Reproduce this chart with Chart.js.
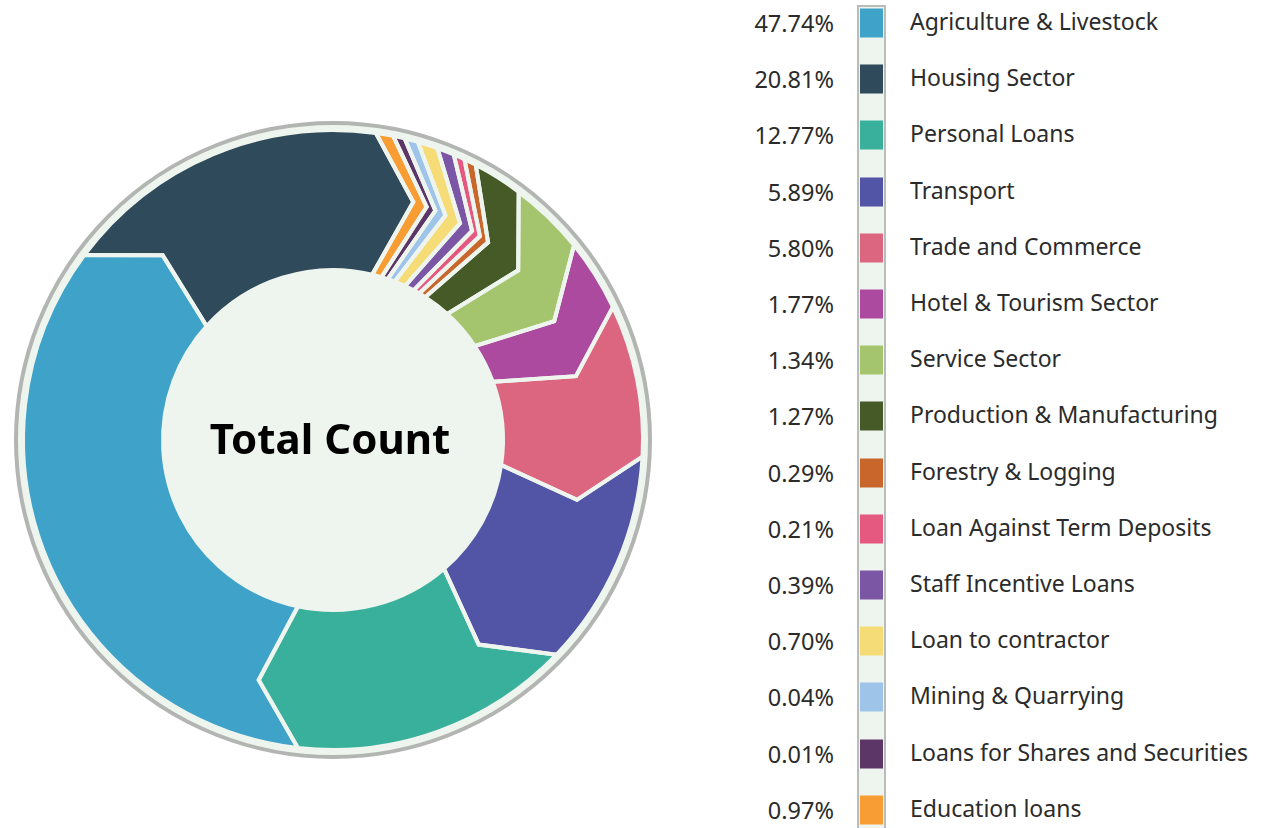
<!DOCTYPE html>
<html>
<head>
<meta charset="utf-8">
<script src="https://cdn.jsdelivr.net/npm/chart.js@4.4.0/dist/chart.umd.min.js"></script>
<style>
    html, body { margin: 0; padding: 0; background: #fff; }
    body { width: 1268px; height: 828px; position: relative; overflow: hidden; font-family: "Noto Sans", sans-serif; color: #2b2b2b; }
    #chartBox { position: absolute; left: 3px; top: 110px; width: 660px; height: 660px; }
    .bar { position: absolute; left: 857px; top: 5px; width: 29px; height: 840px; background: #eef5ee; border: 2px solid #b9bdb9; box-sizing: border-box; }
    .pct { position: absolute; right: 434px; font-size: 23.5px; line-height: 1; transform: translateY(-50%); white-space: nowrap; }
    .sw { position: absolute; left: 860px; width: 23px; height: 29px; transform: translateY(-50%); }
    .lab { position: absolute; left: 910px; font-size: 23px; line-height: 1; transform: translateY(-50%); white-space: nowrap; }
</style>
</head>
<body>
<div id="chartBox"><canvas id="ring"></canvas></div>
<div id="legend"><div class="bar"></div></div>

<script>
// legend order
const categories = ['Agriculture & Livestock', 'Housing Sector', 'Personal Loans', 'Transport', 'Trade and Commerce',
    'Hotel & Tourism Sector', 'Service Sector', 'Production & Manufacturing', 'Forestry & Logging',
    'Loan Against Term Deposits', 'Staff Incentive Loans', 'Loan to contractor', 'Mining & Quarrying',
    'Loans for Shares and Securities', 'Education loans'];
const percentLabels = ['47.74%', '20.81%', '12.77%', '5.89%', '5.80%', '1.77%', '1.34%', '1.27%', '0.29%',
    '0.21%', '0.39%', '0.70%', '0.04%', '0.01%', '0.97%'];
// share of the ring each slice takes (read off the picture, not the % labels)
const countShare = [33.3, 17.0, 14.6, 11.3, 7.9, 3.75, 3.95, 2.6, 0.65, 0.6, 0.9, 1.05, 0.7, 0.6, 0.9];
const colors = ['#3fa3c9', '#2f4a5a', '#39b09b', '#5254a6', '#dc6580', '#ab4a9e', '#a4c46d', '#465a28', '#c9662b',
    '#e5587f', '#7a56a5', '#f6dc76', '#9ec4ea', '#5b3667', '#f89d34'];
// clockwise order of the slices round the ring, starting at Agriculture
const ringOrder = [0, 1, 14, 13, 12, 11, 10, 9, 8, 7, 6, 5, 4, 3, 2];

const bgColor = '#eef5ee';

// legend
const legend = document.getElementById('legend');
categories.forEach((name, i) => {
    let y = 23 + i * 56.2;
    let p = document.createElement('div');
    p.className = 'pct';
    p.style.top = (y + 1) + 'px';
    p.textContent = percentLabels[i];
    let s = document.createElement('div');
    s.className = 'sw';
    s.style.top = y + 'px';
    s.style.background = colors[i];
    let l = document.createElement('div');
    l.className = 'lab';
    l.style.top = (y - 2) + 'px';
    l.textContent = name;
    legend.append(p, s, l);
});

// light disk + grey rim behind the ring
const disk = {
    id: 'disk',
    beforeDatasetsDraw(chart) {
        const arc = chart.getDatasetMeta(0).data[0];
        if (!arc) return;
        const ctx = chart.ctx;
        ctx.save();
        ctx.beginPath();
        ctx.arc(arc.x, arc.y, arc.outerRadius + 7, 0, Math.PI * 2);
        ctx.fillStyle = bgColor;
        ctx.fill();
        ctx.lineWidth = 4;
        ctx.strokeStyle = '#b3b5b3';
        ctx.stroke();
        ctx.restore();
    }
};

// draw each arc as a chevron shaped block
const chevronRing = {
    id: 'chevronRing',
    beforeDatasetDraw(chart, args) {
        const ctx = chart.ctx;
        const fills = chart.data.datasets[args.index].backgroundColor;
        const tip = 10.7 * Math.PI / 180;
        const innerShift = 5.4 * Math.PI / 180;
        const paths = args.meta.data.map(arc => {
            const p = arc.getProps(['x', 'y', 'startAngle', 'endAngle', 'innerRadius', 'outerRadius']);
            const rm = p.innerRadius + (p.outerRadius - p.innerRadius) * 0.58;
            const pt = (r, a) => [p.x + r * Math.cos(a), p.y + r * Math.sin(a)];
            const path = new Path2D();
            path.arc(p.x, p.y, p.outerRadius, p.startAngle, p.endAngle);
            path.lineTo(...pt(rm, p.endAngle + tip));
            path.lineTo(...pt(p.innerRadius, p.endAngle + innerShift));
            path.arc(p.x, p.y, p.innerRadius, p.endAngle + innerShift, p.startAngle + innerShift, true);
            path.lineTo(...pt(rm, p.startAngle + tip));
            path.closePath();
            return path;
        });
        ctx.save();
        paths.forEach((path, i) => {
            ctx.fillStyle = fills[i];
            ctx.fill(path);
        });
        ctx.lineWidth = 4;
        ctx.lineJoin = 'miter';
        ctx.strokeStyle = bgColor;
        paths.forEach(path => ctx.stroke(path));
        ctx.restore();
        return false;
    }
};

const centerText = {
    id: 'centerText',
    afterDatasetsDraw(chart) {
        const arc = chart.getDatasetMeta(0).data[0];
        const ctx = chart.ctx;
        ctx.save();
        ctx.font = 'bold 42px "Noto Sans"';
        ctx.fillStyle = '#000';
        ctx.textAlign = 'center';
        ctx.textBaseline = 'middle';
        ctx.fillText('Total Count', arc.x - 3, arc.y + 2);
        ctx.restore();
    }
};

new Chart(document.getElementById('ring'), {
    type: 'doughnut',
    data: {
        labels: ringOrder.map(i => categories[i]),
        datasets: [{
            data: ringOrder.map(i => countShare[i]),
            backgroundColor: ringOrder.map(i => colors[i]),
            borderWidth: 0,
            hoverOffset: 0
        }]
    },
    options: {
        responsive: true,
        maintainAspectRatio: false,
        animation: false,
        rotation: 186.5,
        cutout: 170,
        layout: { padding: 20 },
        plugins: {
            legend: { display: false },
            tooltip: { enabled: false }
        }
    },
    plugins: [disk, chevronRing, centerText]
});
</script>
</body>
</html>
